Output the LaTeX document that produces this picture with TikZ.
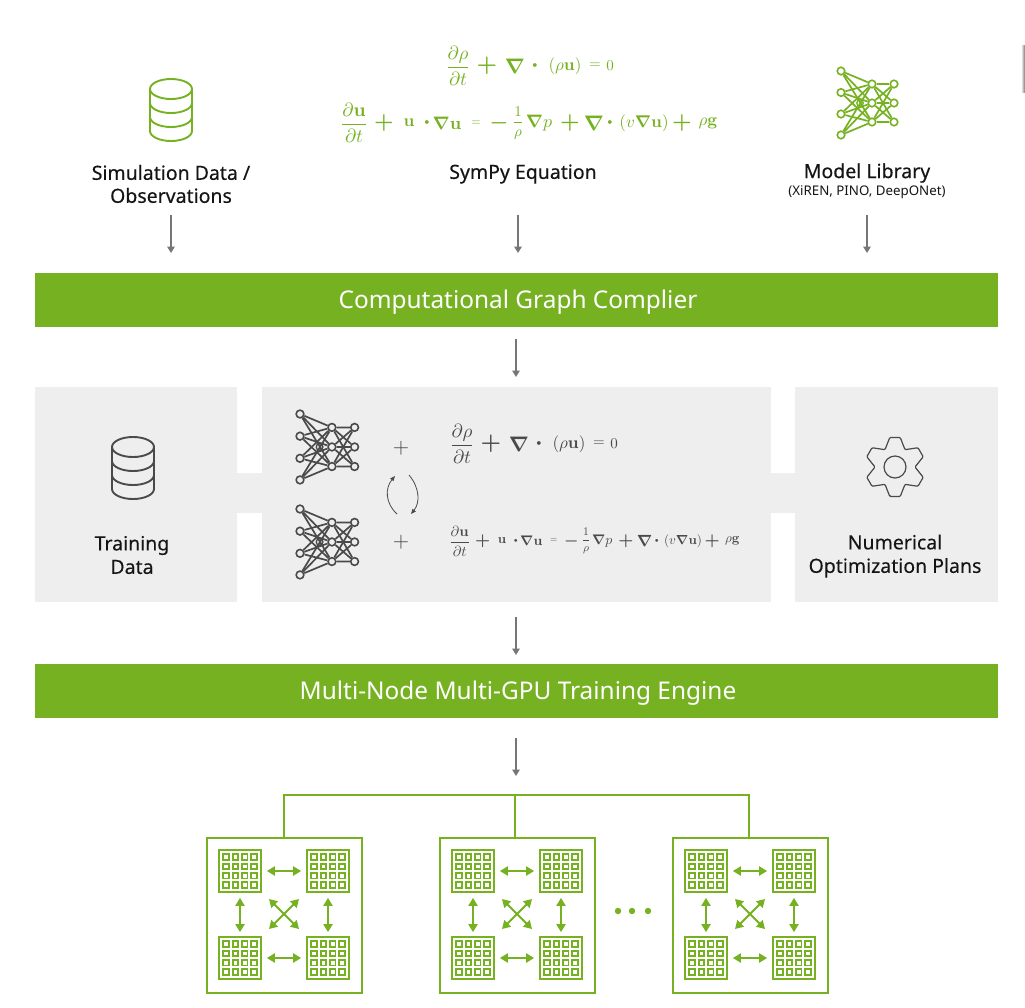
\documentclass[tikz,border=0pt]{standalone}
\usepackage{amsmath}
\usepackage{graphicx}
\usepackage[no-math]{fontspec}
\setmainfont{Noto Sans}
\newfontfamily\labelfont[FakeBold=0.3]{Noto Sans}
\newfontfamily\lightlabelfont[FakeBold=0.12]{Noto Sans}
\usetikzlibrary{arrows.meta}
\definecolor{nvgreen}{HTML}{76B121}
\definecolor{panelgrey}{HTML}{EEEEEE}
\definecolor{arrowgrey}{HTML}{767676}
\definecolor{icongrey}{HTML}{4A4A4A}
\definecolor{labelblack}{HTML}{151515}
\newcommand{\ez}[2]{\scalebox{\fpeval{#1/10}}{$\displaystyle #2$}}
\tikzset{
  x=1pt,y=-1pt,
  bar/.style={fill=nvgreen,draw=none,minimum height=54pt,minimum width=963pt,inner sep=0pt,text=white,text height=16pt,text depth=0pt,font=\fontsize{24.4}{24.4}\selectfont},
  panel/.style={fill=panelgrey,draw=none},
  flow/.style={draw=arrowgrey,line width=2pt,-{Triangle[length=6.5pt,width=7.5pt]}},
  lab/.style={text=labelblack,font=\fontsize{19.5}{23}\selectfont\labelfont,align=center,inner sep=0pt},
  lab2/.style={text=labelblack,font=\fontsize{19.5}{23.5}\selectfont\lightlabelfont,align=center,inner sep=0pt},
  eqpart/.style={inner sep=0pt,anchor=center},
  dev/.style={draw=nvgreen,line width=2pt},
  link/.style={draw=nvgreen,line width=2pt,{Triangle[length=8pt,width=9pt]}-{Triangle[length=8pt,width=9pt]}},
  neuron/.style={circle,draw,line width=1.6pt,minimum size=7.5pt,inner sep=0pt},
  dbicon/.pic={
    \draw[line width=1.9pt,pic actions] (-21,10) -- (-21,52) arc[start angle=180,end angle=360,x radius=21,y radius=-10] -- (21,10);
    \draw[line width=1.9pt,pic actions] (0,10) ellipse[x radius=21,y radius=10];
    \draw[line width=1.9pt,pic actions] (-21,24) arc[start angle=180,end angle=360,x radius=21,y radius=-10];
    \draw[line width=1.9pt,pic actions] (-21,38) arc[start angle=180,end angle=360,x radius=21,y radius=-10];
  },
  netpic/.pic={
    \node[neuron] (l1) at (0,0) {};
    \node[neuron] (l2) at (0,21.5) {};
    \node[neuron] (l3) at (0,43) {};
    \node[neuron] (l4) at (0,64) {};
    \node[neuron] (m1) at (31,13) {};
    \node[neuron] (m2) at (31,32) {};
    \node[neuron] (m3) at (31,51) {};
    \node[neuron] (r1) at (53,13) {};
    \node[neuron] (r2) at (53,32) {};
    \node[neuron] (r3) at (53,51) {};
    \foreach \a in {1,2,3,4} \foreach \b in {1,2,3} \draw[line width=1.7pt] (l\a) -- (m\b);
    \foreach \a in {1,2,3} \foreach \b in {1,2,3} \draw[line width=1.7pt] (m\a) -- (r\b);
    \node[neuron,line width=1.3pt,minimum size=6.5pt] (h) at (19,32) {};
  },
  eqone/.pic={
    \node[eqpart] (a1) at (10,0) {\ez{19}{\frac{\partial\rho}{\partial t}}};
    \node[eqpart] (a2) at (39,0) {\ez{23}{\boldsymbol{+}}};
    \node[eqpart] (a3) at (67,0) {\ez{21}{\boldsymbol{\nabla}}};
    \node[eqpart] (a4) at (87,0) {\ez{24}{\boldsymbol{\cdot}}};
    \node[eqpart] (a5) at (117,0) {\ez{17}{(\rho\mathbf{u})}};
    \node[eqpart] (a6) at (147,0) {\ez{15}{=}};
    \node[eqpart] (a7) at (162,0) {\ez{15}{0}};
  },
  eqtwo/.pic={
    \node[eqpart] (b1) at (10,0) {\ez{19}{\frac{\partial\mathbf{u}}{\partial t}}};
    \node[eqpart] (b2) at (40,0) {\ez{22}{\boldsymbol{+}}};
    \node[eqpart] (b3) at (65,0) {\ez{17}{\mathbf{u}}};
    \node[eqpart] (b4) at (83,0) {\ez{24}{\boldsymbol{\cdot}}};
    \node[eqpart] (b5) at (103,0) {\ez{18}{\boldsymbol{\nabla}\mathbf{u}}};
    \node[eqpart] (b6) at (132,0) {\ez{12}{=}};
    \node[eqpart] (b7) at (155,0) {\ez{21}{\boldsymbol{-}}};
    \node[eqpart] (b8) at (174,0) {\ez{15}{\frac{1}{\rho}}};
    \node[eqpart] (b9) at (195,0) {\ez{18}{\boldsymbol{\nabla} p}};
    \node[eqpart] (b10) at (226,0) {\ez{22}{\boldsymbol{+}}};
    \node[eqpart] (b11) at (250,0) {\ez{21}{\boldsymbol{\nabla}}};
    \node[eqpart] (b12) at (266,0) {\ez{24}{\boldsymbol{\cdot}}};
    \node[eqpart] (b13) at (300,0) {\ez{17}{(v\boldsymbol{\nabla}\mathbf{u})}};
    \node[eqpart] (b14) at (338,0) {\ez{22}{\boldsymbol{+}}};
    \node[eqpart] (b15) at (364,0) {\ez{17}{\rho\mathbf{g}}};
  },
  gpunode/.pic={
    \node[dev,minimum size=155pt,inner sep=0pt,anchor=north west] (box) at (0,0) {};
    \foreach \nm/\cx/\cy in {c1/34/34,c2/122/34,c3/34/121,c4/122/121}{
      \node[draw=nvgreen,line width=2.2pt,minimum size=42.5pt,inner sep=0pt] (\nm) at (\cx,\cy) {};
      \foreach \i in {-13.9,-4.6,4.6,13.9} \foreach \j in {-13.9,-4.6,4.6,13.9}
        \draw[draw=nvgreen,line width=1.8pt] (\cx+\i-2.8,\cy+\j-2.8) rectangle (\cx+\i+2.8,\cy+\j+2.8);
    }
    \draw[link] ([xshift=4.5pt]c1.east) -- ([xshift=-4.5pt]c2.west);
    \draw[link] ([xshift=4.5pt]c3.east) -- ([xshift=-4.5pt]c4.west);
    \draw[link] ([yshift=-4.5pt]c1.south) -- ([yshift=3.5pt]c3.north);
    \draw[link] ([yshift=-4.5pt]c2.south) -- ([yshift=3.5pt]c4.north);
    \draw[link] (63,62) -- (93,92);
    \draw[link] (93,62) -- (63,92);
  },
}
\begin{document}
\begin{tikzpicture}
\useasboundingbox (0,0) rectangle (1025,1007);
\fill[white] (0,0) rectangle (1025,1007);
\fill[left color=white,right color=arrowgrey] (1021,45) rectangle (1025,92);

% top row
\pic[color=nvgreen] (dbtop) at (171,79) {dbicon};
\pic[text=nvgreen,color=nvgreen] (eqTopA) at (448,66) {eqone};
\pic[text=nvgreen,color=nvgreen] (eqTopB) at (344,123) {eqtwo};
\pic[color=nvgreen] (netTop) at (841,71) {netpic};
\node[lab] (simlabel) at (171,184) {Simulation Data /\\Observations};
\node[lab] (symlabel) at (523,174) {SymPy Equation};
\node[lab] (modlabel) at (867,173) {Model Library};
\node[text=labelblack,inner sep=0pt,font=\fontsize{13.3}{15}\selectfont] (modsub) at (867,192) {(XiREN, PINO, DeepONet)};

\coordinate (s1) at (171,215); \coordinate (e1) at (171,253);
\coordinate (s2) at (518,215); \coordinate (e2) at (518,253);
\coordinate (s3) at (867,215); \coordinate (e3) at (867,253);
\draw[flow] (s1) -- (e1);
\draw[flow] (s2) -- (e2);
\draw[flow] (s3) -- (e3);

% compiler bar
\node[bar] (compiler) at (516.5,300) {\hspace*{3pt}Computational Graph Complier};
\coordinate (s4) at (516,339); \coordinate (e4) at (516,377);
\draw[flow] (s4) -- (e4);

% panels
\fill[panel] (35,387) rectangle (237,602);
\fill[panel] (262,387) rectangle (771,602);
\fill[panel] (795,387) rectangle (998,602);
\fill[panel] (237,473) rectangle (262,513);
\fill[panel] (771,473) rectangle (795,513);

\pic[color=icongrey] (dbgrey) at (133,437) {dbicon};
\node[lab2] (trainlabel) at (132,555) {Training\\Data};

\pic[color=icongrey,scale=1.03,transform shape] (netA) at (300,414) {netpic};
\pic[color=icongrey,scale=1.03,transform shape] (netB) at (300,509) {netpic};
\node[inner sep=0pt] (plusA) at (401,448) {\color{icongrey}\ez{21}{+}};
\node[inner sep=0pt] (plusB) at (401,542) {\color{icongrey}\ez{21}{+}};
\coordinate (cl1) at (397,514); \coordinate (cl2) at (395,476);
\coordinate (cr1) at (409,475); \coordinate (cr2) at (411,514);
\draw[icongrey,line width=.8pt,-{Triangle[length=5pt,width=4pt]}] (cl1) .. controls (385,503) and (385,488) .. (cl2);
\draw[icongrey,line width=.8pt,-{Triangle[length=5pt,width=4pt]}] (cr1) .. controls (420,488) and (420,503) .. (cr2);
\pic[text=icongrey] (eqGreyA) at (452,444) {eqone};
\pic[text=icongrey,scale=.77,transform shape] (eqGreyB) at (452,541) {eqtwo};

% gear
\begin{scope}[shift={(895,467)}]
\draw[icongrey,line width=1.2pt,rounded corners=1pt] (100:30)
  \foreach \k in {90,30,-30,-90,-150,-210} { -- (\k-10:30) -- (\k-30:20) -- (\k-50:30) } -- cycle;
\draw[icongrey,line width=1.2pt] (0,0) circle[radius=11];
\end{scope}
\node[lab2] (numlabel) at (895,556) {Numerical\\Optimization Plans};

\coordinate (s5) at (516,617); \coordinate (e5) at (516,655);
\draw[flow] (s5) -- (e5);
\node[bar] (engine) at (516.5,691) {\hspace*{3pt}Multi-Node Multi-GPU Training Engine};
\coordinate (s6) at (516,738); \coordinate (e6) at (516,776);
\draw[flow] (s6) -- (e6);

% GPU nodes
\pic (gpuA) at (206,837) {gpunode};
\pic (gpuB) at (439,837) {gpunode};
\pic (gpuC) at (672,837) {gpunode};
\coordinate (busL) at (284,795);
\coordinate (busM) at (515,795);
\coordinate (busR) at (749,795);
\draw[dev] (gpuAbox.north -| busL) -- (busL) -- (busR) -- (gpuCbox.north -| busR);
\draw[dev] (busM) -- (gpuBbox.north -| busM);
\fill[nvgreen] (618,911) circle[radius=3.2] (632,911) circle[radius=3.2] (648,911) circle[radius=3.2];
\end{tikzpicture}
\end{document}
